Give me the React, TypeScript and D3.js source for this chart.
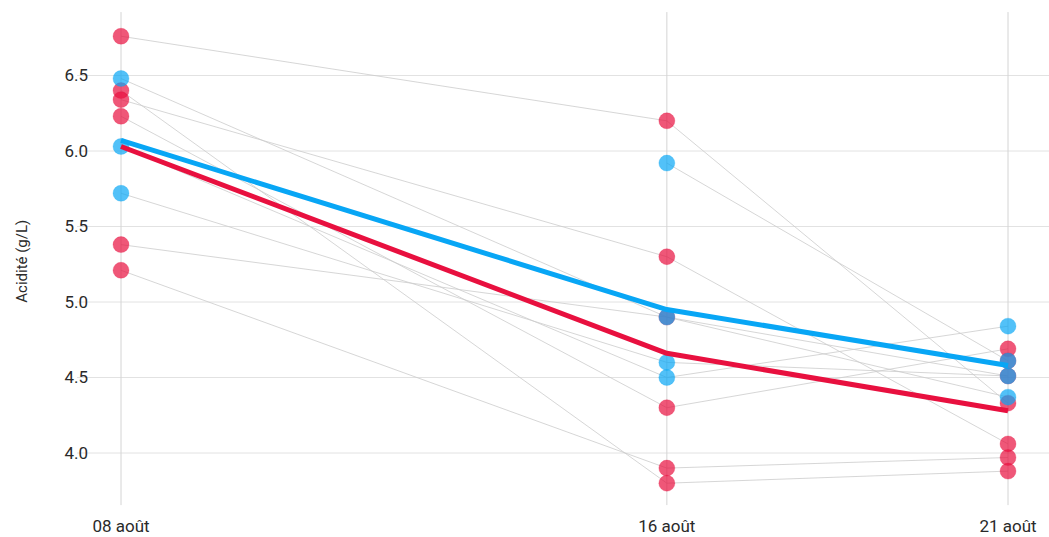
import { useEffect, useRef } from 'react'
import * as d3 from 'd3'

// sampling dates and labels
const DATES  = ['2023-08-08', '2023-08-16', '2023-08-21']
const LABELS = ['08 août', '16 août', '21 août']
const Y_TICKS = [4.0, 4.5, 5.0, 5.5, 6.0, 6.5]

// individual samples (null = not measured at that date)
const RED_SAMPLES: (number | null)[][] = [
  [6.76, 6.20, 4.33],
  [6.40, 3.80, 3.88],
  [6.34, 5.30, 4.06],
  [6.23, 4.30, 4.69],
  [5.38, 4.90, 4.51],
  [5.21, 3.90, 3.97],
  [null, null, 4.61],
]
const BLUE_SAMPLES: (number | null)[][] = [
  [6.48, 4.90, 4.37],
  [6.03, 4.50, 4.84],
  [5.72, 4.60, 4.51],
  [null, 5.92, 4.61],
]

// mean lines
const RED_MEAN  = [6.03, 4.66, 4.28]
const BLUE_MEAN = [6.07, 4.95, 4.58]

const RED  = '#e8103f'
const BLUE = '#08a6f5'

const W = 1049
const H = 537

export default function App() {
  const svgRef = useRef<SVGSVGElement>(null)

  useEffect(() => {
    document.body.style.margin = '0'
    if (!svgRef.current) return
    const svg = d3.select(svgRef.current)
    svg.selectAll('*').remove()
    svg.attr('width', W).attr('height', H)

    const font = 'Roboto, "Noto Sans", sans-serif'
    const parse = d3.timeParse('%Y-%m-%d')
    const dates = DATES.map(d => parse(d)!)

    const x = d3.scaleTime()
      .domain(d3.extent(dates) as [Date, Date])
      .range([121, 1008])
    const y = d3.scaleLinear().domain([4, 6.5]).range([453, 75.5])

    const gridTop = y(6.92)
    const gridBottom = y(3.655)

    // horizontal grid
    svg.append('g')
      .selectAll('line')
      .data(Y_TICKS)
      .join('line')
      .attr('x1', 77).attr('x2', W)
      .attr('y1', d => y(d)).attr('y2', d => y(d))
      .attr('stroke', '#e2e2e2').attr('stroke-width', 1)

    // vertical grid at dates
    svg.append('g')
      .selectAll('line')
      .data(dates)
      .join('line')
      .attr('x1', d => x(d)).attr('x2', d => x(d))
      .attr('y1', gridTop).attr('y2', gridBottom)
      .attr('stroke', '#d4d4d4').attr('stroke-width', 1)

    // y tick labels
    svg.append('g')
      .selectAll('text')
      .data(Y_TICKS)
      .join('text')
      .attr('x', 88).attr('y', d => y(d))
      .attr('dy', '0.35em')
      .attr('text-anchor', 'end')
      .attr('font-family', font).attr('font-size', 17).attr('fill', '#2a2a2a')
      .text(d => d.toFixed(1))

    // x labels
    svg.append('g')
      .selectAll('text')
      .data(dates)
      .join('text')
      .attr('x', d => x(d)).attr('y', 532)
      .attr('text-anchor', 'middle')
      .attr('font-family', font).attr('font-size', 17).attr('fill', '#2a2a2a')
      .text((_, i) => LABELS[i])

    // y axis title
    svg.append('text')
      .attr('transform', `translate(27, ${y(5.27)}) rotate(-90)`)
      .attr('text-anchor', 'middle')
      .attr('font-family', font).attr('font-size', 15).attr('fill', '#2a2a2a')
      .text('Acidité (g/L)')

    // sample connectors
    const sampleLine = d3.line<number | null>()
      .defined(d => d != null)
      .x((_, i) => x(dates[i]))
      .y(d => y(d as number))

    svg.append('g')
      .selectAll('path')
      .data([...RED_SAMPLES, ...BLUE_SAMPLES])
      .join('path')
      .attr('d', d => sampleLine(d))
      .attr('fill', 'none')
      .attr('stroke', '#cccccc').attr('stroke-width', 0.8)

    // dots
    const drawDots = (samples: (number | null)[][], color: string) => {
      const pts = samples.flatMap(s => s.map((v, i) => ({ v, i }))).filter(p => p.v != null)
      svg.append('g')
        .selectAll('circle')
        .data(pts)
        .join('circle')
        .attr('cx', d => x(dates[d.i]))
        .attr('cy', d => y(d.v as number))
        .attr('r', 8)
        .attr('fill', color).attr('fill-opacity', 0.7)
        .attr('stroke', color).attr('stroke-opacity', 0.25).attr('stroke-width', 1)
    }
    drawDots(RED_SAMPLES, RED)
    drawDots(BLUE_SAMPLES, BLUE)

    // mean lines
    const meanLine = d3.line<number>()
      .x((_, i) => x(dates[i]))
      .y(d => y(d))

    svg.append('path')
      .attr('d', meanLine(BLUE_MEAN))
      .attr('fill', 'none').attr('stroke', BLUE).attr('stroke-width', 5)
      .attr('stroke-linejoin', 'round')
    svg.append('path')
      .attr('d', meanLine(RED_MEAN))
      .attr('fill', 'none').attr('stroke', RED).attr('stroke-width', 5)
      .attr('stroke-linejoin', 'round')
  }, [])

  return <svg ref={svgRef} style={{ display: 'block' }} />
}
